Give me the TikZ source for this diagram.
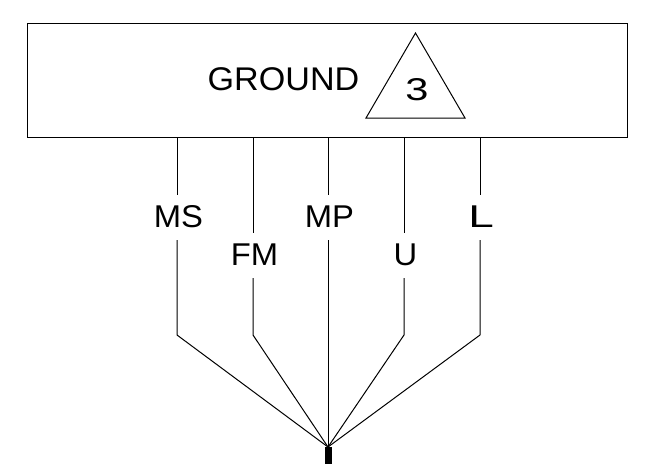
\documentclass[tikz,border=0pt]{standalone}
\usepackage{fontspec}
\setmainfont{Liberation Sans}
\begin{document}
\begin{tikzpicture}[x=1pt,y=-1pt,
  wire/.style={draw=black,line width=1pt},
  lbl/.style={inner sep=0pt,font=\fontsize{31.5}{31.5}\selectfont,anchor=base,xscale=1.04}]
\useasboundingbox (0,0) rectangle (652,464);
\node[draw=black,line width=1.1pt,minimum width=600pt,minimum height=114pt,inner sep=0pt,anchor=north west] (ground) at (27,23) {};
\node[lbl,xscale=1,font=\fontsize{32.8}{32.8}\selectfont] (gt) at (283.5,90) {GROUND};
\coordinate (ta) at (415.5,33);
\coordinate (tb) at (465,118);
\coordinate (tc) at (366,118);
\draw[line width=1pt,line join=miter] (ta) -- (tb) -- (tc) -- cycle;
\node[lbl,xscale=1.27] (three) at (417,100) {3};
\node[lbl] (ms) at (178.5,227) {MS};
\node[lbl] (fm) at (254.5,265) {FM};
\node[lbl] (mp) at (329.5,227) {MP};
\node[lbl] (u) at (405.5,265) {U};
\node[lbl,xscale=1.4] (l) at (481,227) {L};
\coordinate (hub) at (328,447);
\coordinate (stubtop) at (328.5,447);
\coordinate (end) at (328.5,464);
\foreach \n/\x/\a/\b in {ms/177/195/240, fm/253/233/278, mp/328/195/240, u/404/233/278, l/480/195/240}{
  \coordinate (\n a) at (\x,137);
  \coordinate (\n b) at (\x,\a);
  \coordinate (\n c) at (\x,\b);
  \coordinate (\n d) at (\x,335);
  \draw[wire] (\n a) -- (\n b);
}
\draw[wire,line join=bevel] (msc) -- (msd) -- (hub);
\draw[wire,line join=bevel] (fmc) -- (fmd) -- (hub);
\draw[wire] (mpc) -- (hub);
\draw[wire,line join=bevel] (uc) -- (ud) -- (hub);
\draw[wire,line join=bevel] (lc) -- (ld) -- (hub);
\draw[line width=7pt] (stubtop) -- (end);
\end{tikzpicture}
\end{document}
